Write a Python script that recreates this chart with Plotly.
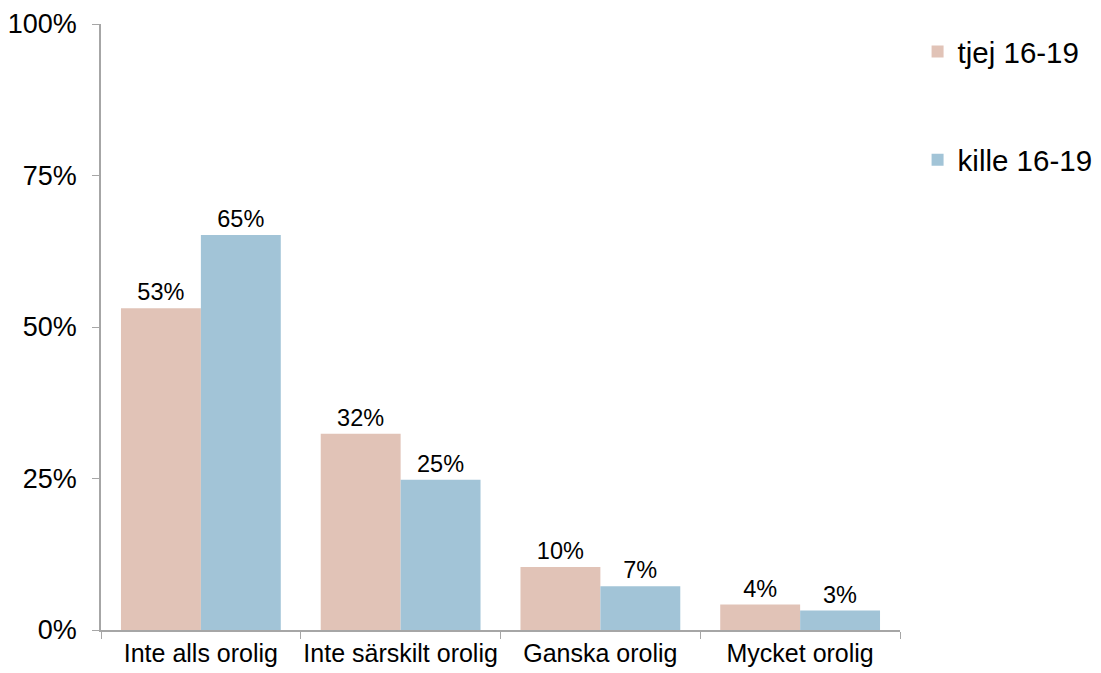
import plotly.graph_objects as go

categories = ["Inte alls orolig", "Inte särskilt orolig", "Ganska orolig", "Mycket orolig"]
tjej_16_19 = [0.531, 0.324, 0.104, 0.042]
kille_16_19 = [0.652, 0.248, 0.072, 0.032]

TJEJ_COLOR = "#E1C3B7"
KILLE_COLOR = "#A2C4D7"
AXIS_COLOR = "#A6A6A6"
FONT = "Liberation Sans, Arial, sans-serif"

fig = go.Figure()
for name, values, color in [
    ("tjej 16-19", tjej_16_19, TJEJ_COLOR),
    ("kille 16-19", kille_16_19, KILLE_COLOR),
]:
    fig.add_trace(
        go.Bar(
            x=categories,
            y=values,
            name=name,
            legendgroup=name,
            marker={"color": color, "line": {"width": 0}},
            text=[f"{round(v * 100)}%" for v in values],
            textposition="outside",
            textfont={"size": 23.5, "color": "#000000", "family": FONT},
            cliponaxis=False,
        )
    )

# the page body has an 8px margin, so the figure sits 8px down and right
fig.update_layout(
    width=1101,
    height=673,
    barmode="group",
    bargap=0.2,
    bargroupgap=0,
    plot_bgcolor="white",
    paper_bgcolor="white",
    font={"family": FONT, "color": "#000000"},
    margin={"l": 93, "r": 209, "t": 16, "b": 51, "autoexpand": False},
    legend={
        "x": 1.022,
        "xanchor": "left",
        "y": 0.997,
        "yanchor": "top",
        "font": {"size": 29.5},
        "tracegroupgap": 67,
        "bgcolor": "rgba(0,0,0,0)",
    },
)
fig.update_yaxes(
    range=[0, 1],
    dtick=0.25,
    tickformat=".0%",
    showgrid=False,
    zeroline=False,
    showline=True,
    linecolor=AXIS_COLOR,
    linewidth=1.5,
    ticks="outside",
    ticklen=7,
    tickcolor=AXIS_COLOR,
    tickfont={"size": 27},
    ticklabelstandoff=10,
    automargin=False,
)
fig.update_xaxes(
    showgrid=False,
    showline=True,
    linecolor=AXIS_COLOR,
    linewidth=1.5,
    ticks="outside",
    tickson="boundaries",
    ticklen=7,
    tickcolor=AXIS_COLOR,
    tickfont={"size": 25},
    tickangle=0,
    automargin=False,
)

fig.write_html("out.html")
